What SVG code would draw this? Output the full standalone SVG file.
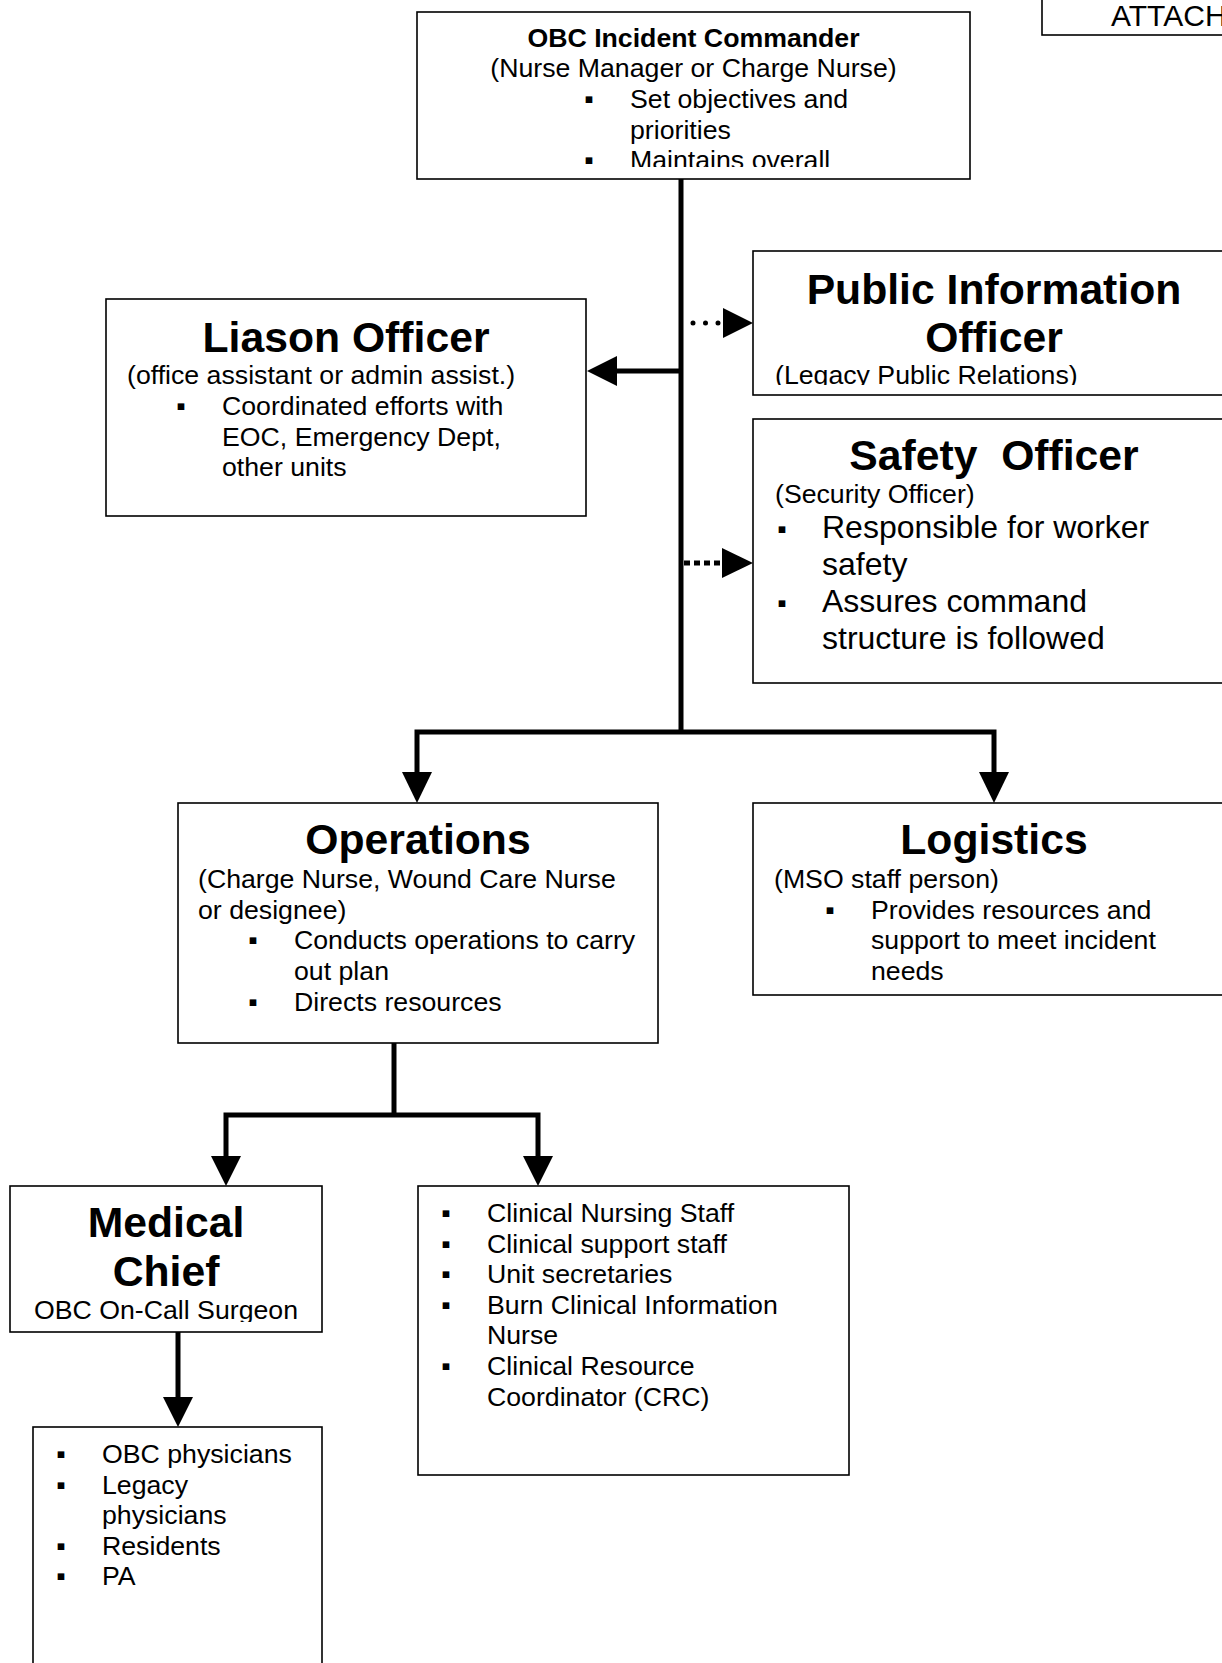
<svg xmlns="http://www.w3.org/2000/svg" width="1222" height="1663" viewBox="0 0 1222 1663">
<style>
.t{font-family:"Liberation Sans",Arial,sans-serif;font-size:26.7px;fill:#000}
.b{font-weight:bold}
.h{font-family:"Liberation Sans",Arial,sans-serif;font-size:42.7px;font-weight:bold;fill:#000}
.l{font-size:32px}
.m{text-anchor:middle}
.bu{font-family:"Liberation Sans",Arial,sans-serif;font-size:26.7px;fill:#000;text-anchor:middle}
.box{fill:#fff;stroke:#000;stroke-width:1.6}
.c{stroke:#000;stroke-width:5;fill:none}
.ah{fill:#000}
</style>
<defs>
<clipPath id="clipIC"><rect x="417" y="12" width="553" height="155"/></clipPath>
<clipPath id="clipPIO"><rect x="753" y="251" width="480" height="134"/></clipPath>
<clipPath id="clipMed"><rect x="10" y="1186" width="312" height="136"/></clipPath>
</defs>
<rect width="1222" height="1663" fill="#fff"/>

<g id="attach">
<rect class="box" x="1042" y="-5" width="200" height="40"/>
<text class="t" x="1111" y="26" style="font-size:30px">ATTACH</text>
</g>

<g id="connectors">
<line class="c" x1="681" y1="179" x2="681" y2="734"/>
<line class="c" x1="681" y1="371" x2="615" y2="371"/>
<polygon class="ah" points="587,371 617,356 617,386"/>
<line x1="693" y1="323" x2="719" y2="323" stroke="#000" stroke-width="5" stroke-linecap="round" stroke-dasharray="0 12.5"/>
<polygon class="ah" points="753,323 723,308 723,338"/>
<line x1="684" y1="563" x2="723" y2="563" stroke="#000" stroke-width="5" stroke-dasharray="6 4"/>
<polygon class="ah" points="753,563 722,548 722,578"/>
<polyline class="c" points="417,774 417,732 994,732 994,774"/>
<polygon class="ah" points="417,803 402,772 432,772"/>
<polygon class="ah" points="994,803 979,772 1009,772"/>
<line class="c" x1="394" y1="1043" x2="394" y2="1115"/>
<polyline class="c" points="226,1158 226,1115 538,1115 538,1158"/>
<polygon class="ah" points="226,1186 211,1156 241,1156"/>
<polygon class="ah" points="538,1186 523,1156 553,1156"/>
<line class="c" x1="178" y1="1332" x2="178" y2="1399"/>
<polygon class="ah" points="178,1427 163,1397 193,1397"/>
</g>

<g id="incident-commander">
<rect class="box" x="417" y="12" width="553" height="167"/>
<g clip-path="url(#clipIC)">
<text class="t b m" x="693.5" y="46.5">OBC Incident Commander</text>
<text class="t m" x="693.5" y="77.2">(Nurse Manager or Charge Nurse)</text>
<text class="bu" x="589" y="107.9">▪</text>
<text class="t" x="630" y="107.9">Set objectives and</text>
<text class="t" x="630" y="138.6">priorities</text>
<text class="bu" x="589" y="169.3">▪</text>
<text class="t" x="630" y="169.3">Maintains overall</text>
</g>
</g>

<g id="liaison-officer">
<rect class="box" x="106" y="299" width="480" height="217"/>
<text class="h m" x="346" y="352">Liason Officer</text>
<text class="t" x="127" y="384">(office assistant or admin assist.)</text>
<text class="bu" x="181" y="415">▪</text>
<text class="t" x="222" y="415">Coordinated efforts with</text>
<text class="t" x="222" y="445.5">EOC, Emergency Dept,</text>
<text class="t" x="222" y="476">other units</text>
</g>

<g id="public-information-officer">
<rect class="box" x="753" y="251" width="480" height="144"/>
<g clip-path="url(#clipPIO)">
<text class="h m" x="994" y="304">Public Information</text>
<text class="h m" x="994" y="352">Officer</text>
<text class="t" x="775" y="384">(Legacy Public Relations)</text>
</g>
</g>

<g id="safety-officer">
<rect class="box" x="753" y="419" width="480" height="264"/>
<text class="h m" x="994" y="470" xml:space="preserve">Safety  Officer</text>
<text class="t" x="775" y="503">(Security Officer)</text>
<text class="bu l" x="782" y="538">▪</text>
<text class="t l" x="822" y="538">Responsible for worker</text>
<text class="t l" x="822" y="575">safety</text>
<text class="bu l" x="782" y="612">▪</text>
<text class="t l" x="822" y="612">Assures command</text>
<text class="t l" x="822" y="649">structure is followed</text>
</g>

<g id="operations">
<rect class="box" x="178" y="803" width="480" height="240"/>
<text class="h m" x="418" y="854">Operations</text>
<text class="t" x="198" y="888">(Charge Nurse, Wound Care Nurse</text>
<text class="t" x="198" y="918.7">or designee)</text>
<text class="bu" x="253" y="949.4">▪</text>
<text class="t" x="294" y="949.4">Conducts operations to carry</text>
<text class="t" x="294" y="980.1">out plan</text>
<text class="bu" x="253" y="1010.8">▪</text>
<text class="t" x="294" y="1010.8">Directs resources</text>
</g>

<g id="logistics">
<rect class="box" x="753" y="803" width="480" height="192"/>
<text class="h m" x="994" y="854">Logistics</text>
<text class="t" x="774" y="888">(MSO staff person)</text>
<text class="bu" x="830" y="918.7">▪</text>
<text class="t" x="871" y="918.7">Provides resources and</text>
<text class="t" x="871" y="949.4">support to meet incident</text>
<text class="t" x="871" y="980.1">needs</text>
</g>

<g id="medical-chief">
<rect class="box" x="10" y="1186" width="312" height="146"/>
<g clip-path="url(#clipMed)">
<text class="h m" x="166" y="1237">Medical</text>
<text class="h m" x="166" y="1286">Chief</text>
<text class="t m" x="166" y="1319">OBC On-Call Surgeon</text>
</g>
</g>

<g id="clinical-staff">
<rect class="box" x="418" y="1186" width="431" height="289"/>
<text class="bu" x="446" y="1222">▪</text>
<text class="t" x="487" y="1222">Clinical Nursing Staff</text>
<text class="bu" x="446" y="1252.6">▪</text>
<text class="t" x="487" y="1252.6">Clinical support staff</text>
<text class="bu" x="446" y="1283.2">▪</text>
<text class="t" x="487" y="1283.2">Unit secretaries</text>
<text class="bu" x="446" y="1313.8">▪</text>
<text class="t" x="487" y="1313.8">Burn Clinical Information</text>
<text class="t" x="487" y="1344.4">Nurse</text>
<text class="bu" x="446" y="1375">▪</text>
<text class="t" x="487" y="1375">Clinical Resource</text>
<text class="t" x="487" y="1405.6">Coordinator (CRC)</text>
</g>

<g id="physicians">
<rect class="box" x="33" y="1427" width="289" height="260"/>
<text class="bu" x="61" y="1463">▪</text>
<text class="t" x="102" y="1463">OBC physicians</text>
<text class="bu" x="61" y="1493.6">▪</text>
<text class="t" x="102" y="1493.6">Legacy</text>
<text class="t" x="102" y="1524.2">physicians</text>
<text class="bu" x="61" y="1554.8">▪</text>
<text class="t" x="102" y="1554.8">Residents</text>
<text class="bu" x="61" y="1585.4">▪</text>
<text class="t" x="102" y="1585.4">PA</text>
</g>
</svg>
